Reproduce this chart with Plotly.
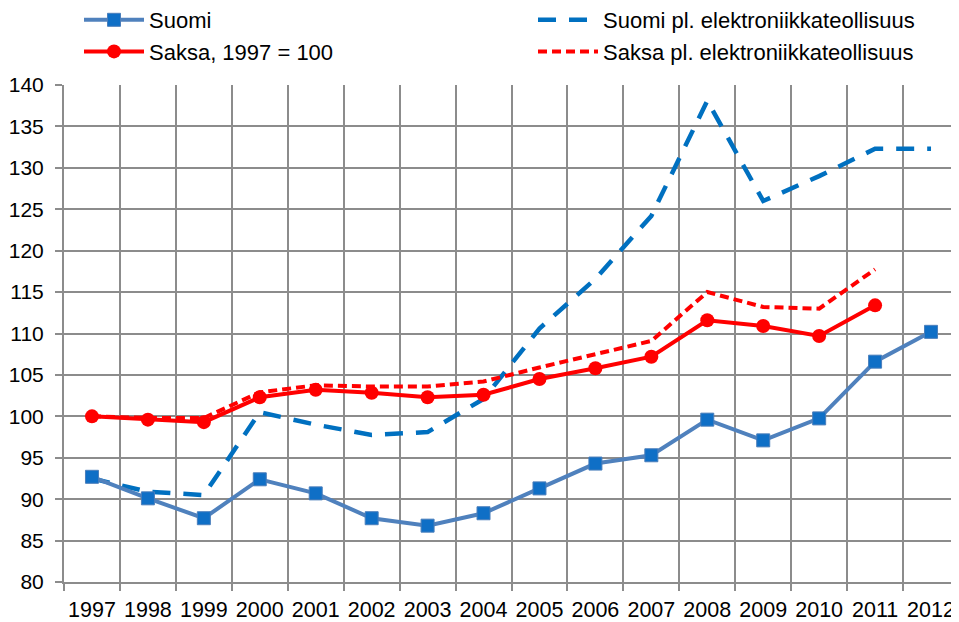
import plotly.graph_objects as go

years = list(range(1997, 2013))
year_labels = [str(y) for y in years]

suomi = [92.7, 90.1, 87.7, 92.4, 90.7, 87.7, 86.8, 88.3, 91.3, 94.3, 95.3, 99.6, 97.1, 99.75, 106.6, 110.2]
saksa = [100.0, 99.6, 99.3, 102.3, 103.2, 102.85, 102.3, 102.6, 104.5, 105.8, 107.2, 111.6, 110.9, 109.7, 113.4]
suomi_pl = [92.5, 90.9, 90.5, 100.5, 99.0, 97.75, 98.1, 102.1, 110.6, 116.6, 124.2, 138.1, 126.0, 129.0, 132.3, 132.3]
saksa_pl = [100.0, 99.8, 99.8, 102.9, 103.75, 103.6, 103.6, 104.2, 105.9, 107.5, 109.1, 115.0, 113.2, 113.0, 117.75]

FONT = "Liberation Sans, Arial, sans-serif"
GRID = "#8C8C8C"

# page has an 8px body margin, so the figure is sized to fit the window
OFF = 8
W, H = 959 - OFF, 622 - OFF
L, T, B, R = 64 - OFF, 85 - OFF, 622 - 582, 0
PW = W - L - R
PH = H - T - B

fig = go.Figure()
fig.add_trace(go.Scatter(
    x=years, y=suomi_pl, name="Suomi pl. elektroniikkateollisuus", mode="lines",
    line=dict(color="#0070C0", width=4.5, dash="18px,13px"), legend="legend2"))
fig.add_trace(go.Scatter(
    x=years, y=suomi, name="Suomi", mode="lines+markers",
    line=dict(color="#4F81BD", width=4),
    marker=dict(symbol="square", size=13, color="#0F6FC6", line=dict(color="#4A7EBB", width=1)),
    legend="legend"))
fig.add_trace(go.Scatter(
    x=years[:len(saksa_pl)], y=saksa_pl, name="Saksa pl. elektroniikkateollisuus", mode="lines",
    line=dict(color="#FF0000", width=4, dash="9px,5px"), legend="legend2"))
fig.add_trace(go.Scatter(
    x=years[:len(saksa)], y=saksa, name="Saksa, 1997 = 100", mode="lines+markers",
    line=dict(color="#FF0000", width=4),
    marker=dict(symbol="circle", size=14, color="#FF0000"),
    legend="legend"))

legend_y = 1 + (T + 9) / PH
LEG_FONT = dict(family=FONT, size=22, color="black")

fig.update_layout(
    width=W, height=H,
    margin=dict(l=L, r=R, t=T, b=B, autoexpand=False),
    paper_bgcolor="white", plot_bgcolor="white",
    font=dict(family=FONT, size=21, color="black"),
    showlegend=True,
    legend=dict(x=(71 - L) / PW, xref="paper", y=legend_y, yref="paper", yanchor="top",
                xanchor="left", font=LEG_FONT,
                bgcolor="rgba(0,0,0,0)", itemwidth=60, tracegroupgap=0),
    legend2=dict(x=(525 - L) / PW, xref="paper", y=legend_y, yref="paper", yanchor="top",
                 xanchor="left", font=LEG_FONT,
                 bgcolor="rgba(0,0,0,0)", itemwidth=60, tracegroupgap=0),
    xaxis=dict(
        range=[1996.5, 2012.5], tickmode="array", tickvals=years, ticktext=year_labels,
        showgrid=False, ticks="", showline=True, linecolor=GRID, linewidth=2,
        zeroline=False, ticklabelstandoff=7, automargin=False,
        tickfont=dict(family=FONT, size=21.5, color="black"),
        minor=dict(tickmode="linear", tick0=1996.5, dtick=1, showgrid=True,
                   gridcolor=GRID, gridwidth=2, ticks="outside", ticklen=7,
                   tickcolor=GRID, tickwidth=2),
    ),
    yaxis=dict(
        range=[80, 140], tickmode="linear", tick0=80, dtick=5,
        showgrid=True, gridcolor=GRID, gridwidth=2, zeroline=False,
        showline=True, linecolor=GRID, linewidth=2, automargin=False,
        ticks="outside", ticklen=7, tickcolor=GRID, tickwidth=2,
        ticklabelstandoff=7,
        tickfont=dict(family=FONT, size=21, color="black"),
    ),
)

fig.write_html("out.html")
